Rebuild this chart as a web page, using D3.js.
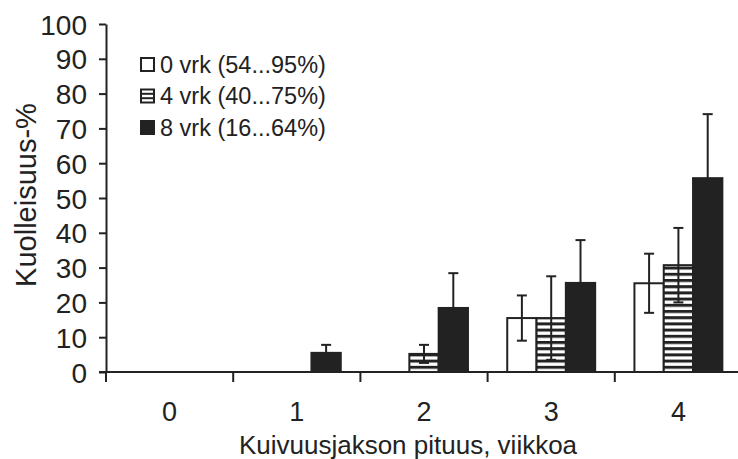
<!DOCTYPE html>
<html><head><meta charset="utf-8">
<script src="https://cdn.jsdelivr.net/npm/d3@7"></script>
<style>html,body{margin:0;padding:0;background:#fff;}svg{display:block;}</style>
</head><body>
<svg id="c" width="738" height="459"></svg>
<script>
const categories = ["0", "1", "2", "3", "4"];
const seriesNames = ["0 vrk (54...95%)", "4 vrk (40...75%)", "8 vrk (16...64%)"];
const vals0 = [0, 0, 0, 15.5, 25.5];
const err0  = [0, 0, 0, 6.5, 8.5];
const vals4 = [0, 0, 5.2, 15.5, 30.7];
const err4  = [0, 0, 2.6, 12, 10.7];
const vals8 = [0, 5.5, 18.4, 25.6, 55.7];
const err8  = [0, 2.3, 10, 12.3, 18.4];
const yTicks = [0, 10, 20, 30, 40, 50, 60, 70, 80, 90, 100];
const yTitle = "Kuolleisuus-%";
const xTitle = "Kuivuusjakson pituus, viikkoa";

const ink = "#222";
const font = "'Liberation Sans', Arial, sans-serif";
const svg = d3.select("#c");

const defs = svg.append("defs");
const pat = defs.append("pattern").attr("id", "hatch")
  .attr("patternUnits", "userSpaceOnUse").attr("width", 8).attr("height", 6.2);
pat.append("rect").attr("width", 8).attr("height", 6.2).attr("fill", "#fff");
pat.append("rect").attr("y", 0).attr("width", 8).attr("height", 3).attr("fill", ink);

const fills = ["#fff", "url(#hatch)", ink];
const seriesVals = [vals0, vals4, vals8];
const seriesErr = [err0, err4, err8];

const x = d3.scaleBand().domain(categories).range([106, 742]).padding(0);
const xs = d3.scaleBand().domain(d3.range(3)).range([0, x.bandwidth()]).paddingInner(0).paddingOuter(0.67);
const y = d3.scaleLinear().domain([0, 100]).range([372, 24]);

// Bars
seriesVals.forEach((vals, s) => {
  svg.append("g").selectAll("rect").data(vals).join("rect")
    .attr("x", (d, i) => x(categories[i]) + xs(s))
    .attr("y", d => y(d))
    .attr("width", xs.bandwidth())
    .attr("height", d => y(0) - y(d))
    .attr("fill", fills[s])
    .attr("stroke", d => d > 0 ? ink : "none")
    .attr("stroke-width", 2);
});

// Error bars
seriesVals.forEach((vals, s) => {
  const g = svg.append("g").attr("stroke", ink).attr("stroke-width", 2);
  vals.forEach((v, i) => {
    const e = seriesErr[s][i];
    if (e <= 0) return;
    const cx = x(categories[i]) + xs(s) + xs.bandwidth() / 2;
    const lo = Math.max(0, v - e);
    g.append("line").attr("x1", cx).attr("x2", cx).attr("y1", y(v + e)).attr("y2", y(lo));
    g.append("line").attr("x1", cx - 5).attr("x2", cx + 5).attr("y1", y(v + e)).attr("y2", y(v + e));
    if (s < 2) g.append("line").attr("x1", cx - 5).attr("x2", cx + 5).attr("y1", y(lo)).attr("y2", y(lo));
  });
});

// Y axis
const yAxis = d3.axisLeft(y).tickValues(yTicks).tickSize(7).tickSizeOuter(0).tickPadding(12);
const gy = svg.append("g").attr("transform", "translate(106,0)").call(yAxis);
gy.select(".domain").attr("stroke", ink).attr("stroke-width", 2);
gy.selectAll(".tick line").attr("stroke", ink).attr("stroke-width", 2);
gy.selectAll(".tick text").attr("font-family", font).attr("font-size", 28).attr("fill", ink).attr("dy", "0.36em");
gy.select(".tick line").attr("x2", 0).attr("x1", -7);

// X axis
const xAxis = d3.axisBottom(x).tickSize(0).tickSizeOuter(0).tickPadding(30);
const gx = svg.append("g").attr("transform", "translate(0,372)").call(xAxis);
gx.select(".domain").remove();
gx.selectAll(".tick text").attr("font-family", font).attr("font-size", 27).attr("fill", ink);
svg.append("line").attr("x1", 99).attr("x2", 738).attr("y1", 372).attr("y2", 372)
  .attr("stroke", ink).attr("stroke-width", 2);
svg.append("g").selectAll("line").data(categories).join("line")
  .attr("x1", d => x(d)).attr("x2", d => x(d))
  .attr("y1", 372).attr("y2", 382)
  .attr("stroke", ink).attr("stroke-width", 2);

// Titles
svg.append("text").attr("x", 408).attr("y", 454).attr("text-anchor", "middle")
  .attr("font-family", font).attr("font-size", 26).attr("fill", ink).text(xTitle);
svg.append("text").attr("transform", "translate(36,195) rotate(-90)").attr("text-anchor", "middle")
  .attr("font-family", font).attr("font-size", 29).attr("fill", ink).text(yTitle);

// Legend
const lg = svg.append("g");
seriesNames.forEach((nm, s) => {
  const ry = 58 + s * 31.5;
  lg.append("rect").attr("x", 141).attr("y", ry).attr("width", 13).attr("height", 13)
    .attr("fill", s === 1 ? "#fff" : fills[s]).attr("stroke", ink).attr("stroke-width", 2);
  if (s === 1) {
    [ry + 4.3, ry + 8.7].forEach(yy => lg.append("line").attr("x1", 141).attr("x2", 154)
      .attr("y1", yy).attr("y2", yy).attr("stroke", ink).attr("stroke-width", 2));
  }
  lg.append("text").attr("x", 160).attr("y", ry + 14.5).attr("font-family", font)
    .attr("font-size", 23.5).attr("fill", ink).text(nm);
});
</script>
</body></html>
